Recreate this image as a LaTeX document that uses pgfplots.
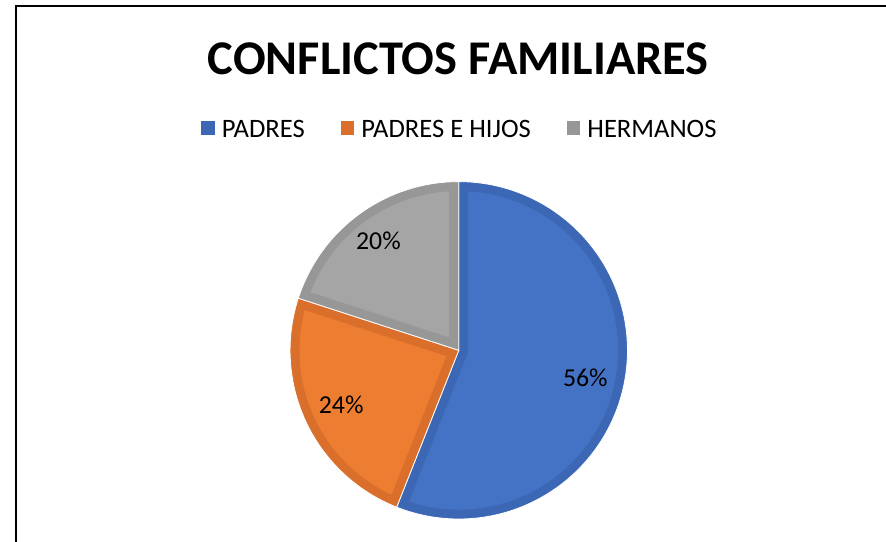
\documentclass[border=0pt]{standalone}
\usepackage{fontspec}
\setmainfont{Carlito}
\usepackage{pgfplots}
\usepackage{pgfplotstable}
\pgfplotsset{compat=1.18}

\definecolor{padresfill}{HTML}{4472C4}
\definecolor{padresband}{HTML}{3C67B5}
\definecolor{hijosfill}{HTML}{ED7D31}
\definecolor{hijosband}{HTML}{DA6F2B}
\definecolor{hermfill}{HTML}{A5A5A5}
\definecolor{hermband}{HTML}{979797}

% share of each group, in percent
\pgfplotstableread{
label value
PADRES 56
HIJOS 24
HERMANOS 20
}\pietable

% where the percentage labels sit (pt from the pie centre)
\pgfplotstableread{
x y pct
127.5 -28 56
-118.5 -55 24
-81 110 20
}\labeltable

\def\pieR{170} % pie radius
\def\bw{9.5}   % width of the darker rim

% #1 name, #2 start angle (slices run clockwise), #3 share in percent
\newcommand\prepslice[3]{%
  \pgfmathsetmacro\slB{#2}%
  \pgfmathsetmacro\slA{#2-3.6*#3}%
  \pgfmathsetmacro\slM{(\slA+\slB)/2}%
  \pgfmathsetmacro\slH{(\slB-\slA)/2}%
  \pgfmathsetmacro\slK{\bw/sin(\slH)}%
  \pgfmathsetmacro\slD{asin(\bw/(\pieR-\bw))}%
  \expandafter\xdef\csname #1a\endcsname{\slA}%
  \expandafter\xdef\csname #1b\endcsname{\slB}%
  \pgfmathsetmacro\tmp{\slA+\slD}\expandafter\xdef\csname #1al\endcsname{\tmp}%
  \pgfmathsetmacro\tmp{\slB-\slD}\expandafter\xdef\csname #1bh\endcsname{\tmp}%
  \pgfmathsetmacro\tmp{\slK*cos(\slM)}\expandafter\xdef\csname #1x\endcsname{\tmp}%
  \pgfmathsetmacro\tmp{\slK*sin(\slM)}\expandafter\xdef\csname #1y\endcsname{\tmp}%
}

\begin{document}
\pgfplotstablegetelem{0}{value}\of\pietable \let\vP\pgfplotsretval
\pgfplotstablegetelem{1}{value}\of\pietable \let\vH\pgfplotsretval
\pgfplotstablegetelem{2}{value}\of\pietable \let\vE\pgfplotsretval
\prepslice{P}{90}{\vP}
\prepslice{H}{\Pa}{\vH}
\prepslice{E}{\Ha}{\vE}
\begin{tikzpicture}[x=1pt,y=1pt]
\useasboundingbox (0,0) rectangle (886,546);
\draw[line width=2pt] (9,0) -- (9,540) -- (886,540);
\node[font=\fontsize{48.8}{58}\selectfont\bfseries, anchor=base] at (455,471) {CONFLICTOS FAMILIARES};
\begin{axis}[
  at={(455.5,193)}, anchor=center,
  scale only axis, width=340pt, height=340pt,
  xmin=-170, xmax=170, ymin=-170, ymax=170,
  hide axis, clip=false,
  legend columns=3,
  legend image code/.code={\fill[#1,draw=none] (0pt,-5pt) rectangle (14pt,9pt);},
  legend style={draw=none, fill=none, at={(0.503,1.153)}, anchor=center,
    font=\fontsize{26.8}{31}\selectfont,
    /tikz/every odd column/.append style={column sep=5pt},
    /tikz/every even column/.append style={column sep=34pt}},
]
\addplot[fill=padresband, draw=white, line width=0.8pt, domain=\Pa:\Pb, samples=100]
  ({\pieR*cos(x)},{\pieR*sin(x)}) -- (0,0) -- cycle;
\addlegendentry{PADRES}
\addplot[forget plot, fill=padresfill, draw=none, domain=\Pal:\Pbh, samples=100]
  ({(\pieR-\bw)*cos(x)},{(\pieR-\bw)*sin(x)}) -- (\Px,\Py) -- cycle;

\addplot[fill=hijosband, draw=white, line width=0.8pt, domain=\Ha:\Hb, samples=60]
  ({\pieR*cos(x)},{\pieR*sin(x)}) -- (0,0) -- cycle;
\addlegendentry{PADRES E HIJOS}
\addplot[forget plot, fill=hijosfill, draw=none, domain=\Hal:\Hbh, samples=60]
  ({(\pieR-\bw)*cos(x)},{(\pieR-\bw)*sin(x)}) -- (\Hx,\Hy) -- cycle;

\addplot[fill=hermband, draw=white, line width=0.8pt, domain=\Ea:\Eb, samples=50]
  ({\pieR*cos(x)},{\pieR*sin(x)}) -- (0,0) -- cycle;
\addlegendentry{HERMANOS}
\addplot[forget plot, fill=hermfill, draw=none, domain=\Eal:\Ebh, samples=50]
  ({(\pieR-\bw)*cos(x)},{(\pieR-\bw)*sin(x)}) -- (\Ex,\Ey) -- cycle;

\addplot[forget plot, draw=none, mark=none, point meta=explicit symbolic,
  nodes near coords={\pgfplotspointmeta\%},
  nodes near coords style={anchor=center, text=black, font=\fontsize{26}{30}\selectfont}]
  table[x=x, y=y, meta=pct] {\labeltable};
\end{axis}
\end{tikzpicture}
\end{document}
